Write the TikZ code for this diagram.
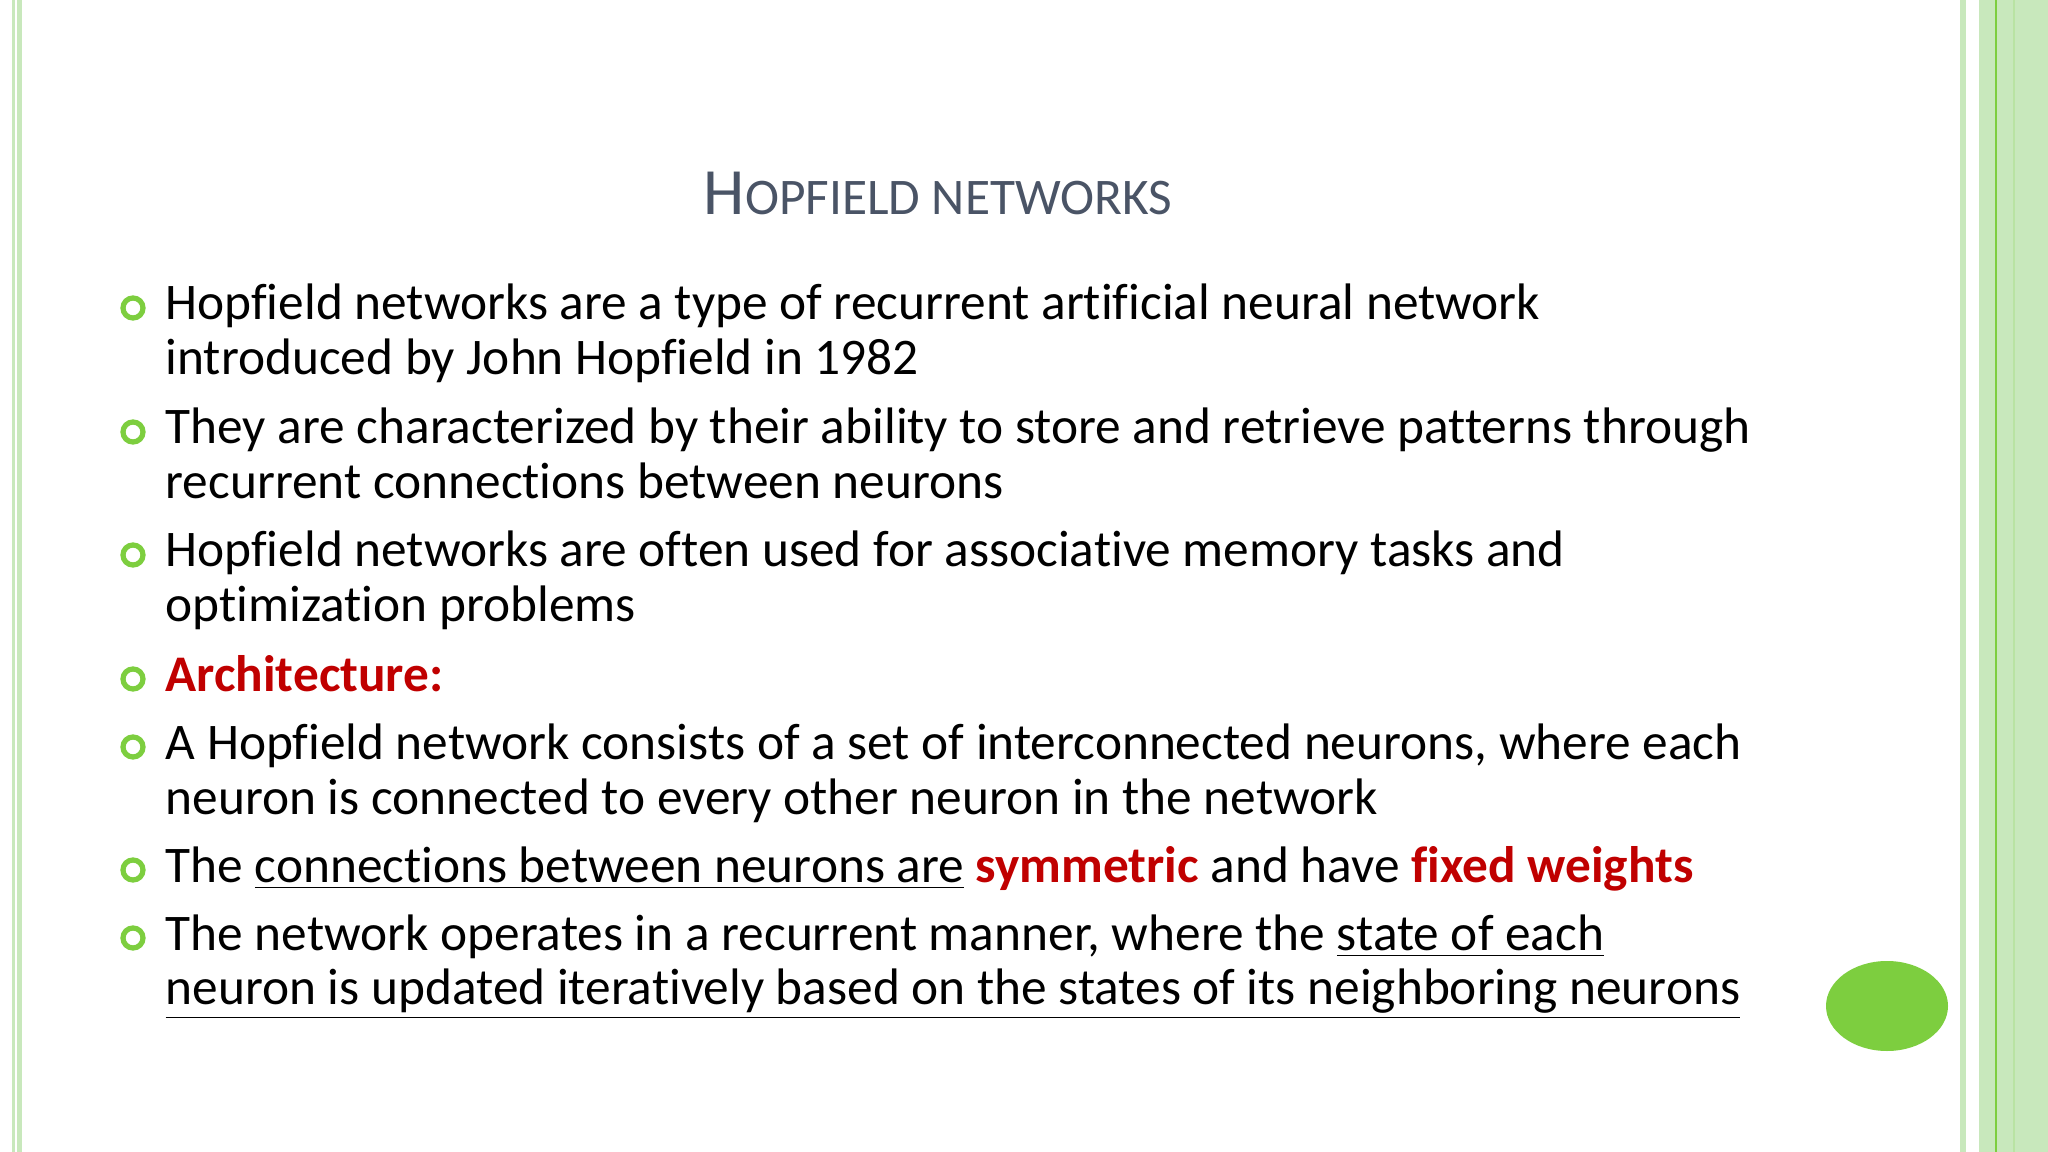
\documentclass[tikz,border=0pt]{standalone}
\usepackage{fontspec}
\setmainfont{Carlito}[Ligatures={NoCommon}]
\definecolor{lg}{HTML}{C8E8BC}
\definecolor{mg}{HTML}{7DCE3F}
\definecolor{tg}{HTML}{4A5466}
\definecolor{rd}{HTML}{C00000}
\tikzset{ln/.style={anchor=base west,inner sep=0pt,font=\fontsize{14.6}{18}\selectfont},
bul/.style={circle,draw=mg,line width=1.5pt,minimum size=0.2cm,inner sep=0pt}}
\newcommand{\R}[1]{\textcolor{rd}{\textbf{#1}}}
\begin{document}
\begin{tikzpicture}[x=0.01cm,y=-0.01cm]
\useasboundingbox (0,0) rectangle (2048,1152);
\fill[lg] (12,0) rectangle (15,1152);
\fill[lg] (17,0) rectangle (22,1152);
\fill[lg] (1960,0) rectangle (1966,1152);
\fill[lg] (1979,0) rectangle (2048,1152);
\draw[mg,line width=0.6pt] (1996,0) -- (1996,1152);
\draw[lg!80!mg,line width=0.4pt] (2014,0) -- (2014,1152);
\node[anchor=base,inner sep=0pt,text=tg] (title) at (938,215) {\fontsize{18.8}{22}\selectfont H\fontsize{14.6}{18}\selectfont OPFIELD NETWORKS};
\foreach \y [count=\i] in {320,444,567,691,759,882,950}
  \node[bul] (b\i) at (133,\y-12) {};
\node[ln] (l1) at (165,320) {Hopfield networks are a type of recurrent artificial neural network};
\node[ln] (l2) at (165,375) {introduced by John Hopfield in 1982};
\node[ln] (l3) at (165,444) {They are characterized by their ability to store and retrieve patterns through};
\node[ln] (l4) at (165,499) {recurrent connections between neurons};
\node[ln] (l5) at (165,567) {Hopfield networks are often used for associative memory tasks and};
\node[ln] (l6) at (165,622) {optimization problems};
\node[ln] (l7) at (165,691) {\R{Architecture:}};
\node[ln] (l8) at (165,759) {A Hopfield network consists of a set of interconnected neurons, where each};
\node[ln] (l9) at (165,814) {neuron is connected to every other neuron in the network};
\node[ln] (l10) at (165,882) {The \underline{connections between neurons are} \R{symmetric} and have \R{fixed weights}};
\node[ln] (l11) at (165,950) {The network operates in a recurrent manner, where the \underline{state of each}};
\node[ln] (l12) at (165,1004) {\underline{neuron is updated iteratively based on the states of its neighboring neurons}};
\fill[mg] (1887,1006) ellipse [x radius=61, y radius=45];
\end{tikzpicture}
\end{document}
